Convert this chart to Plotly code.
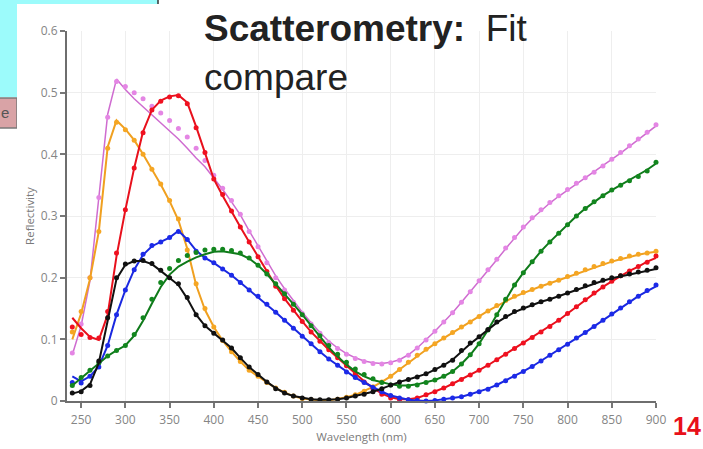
import plotly.graph_objects as go

# Wavelength sampling grid (nm)
wavelength_nm = list(range(240, 901, 10))

# Measured reflectivity (dots) and model fit (lines) for six samples
violet_meas = [0.078, 0.125, 0.20, 0.33, 0.46, 0.518, 0.51, 0.50, 0.49, 0.478,
               0.467, 0.455, 0.442, 0.428, 0.41, 0.39, 0.366, 0.345, 0.325, 0.303,
               0.275, 0.25, 0.224, 0.20, 0.18, 0.16, 0.142, 0.125, 0.11, 0.095,
               0.085, 0.076, 0.069, 0.064, 0.061, 0.06, 0.062, 0.066, 0.074, 0.086,
               0.099, 0.113, 0.128, 0.143, 0.16, 0.177, 0.195, 0.213, 0.23, 0.248,
               0.265, 0.282, 0.297, 0.31, 0.322, 0.333, 0.343, 0.353, 0.362, 0.371,
               0.381, 0.392, 0.403, 0.414, 0.425, 0.436, 0.448]
violet_fit = [0.075, 0.122, 0.195, 0.33, 0.465, 0.522, 0.505, 0.49, 0.477, 0.465,
              0.452, 0.438, 0.425, 0.41, 0.394, 0.38, 0.362, 0.343, 0.323, 0.302,
              0.276, 0.251, 0.226, 0.203, 0.182, 0.162, 0.144, 0.127, 0.111, 0.097,
              0.086, 0.077, 0.07, 0.065, 0.062, 0.061, 0.063, 0.067, 0.075, 0.086,
              0.099, 0.113, 0.128, 0.143, 0.16, 0.177, 0.195, 0.212, 0.229, 0.247,
              0.264, 0.281, 0.296, 0.309, 0.321, 0.332, 0.342, 0.352, 0.361, 0.371,
              0.381, 0.391, 0.402, 0.413, 0.424, 0.435, 0.446]

red_meas = [0.12, 0.108, 0.103, 0.102, 0.145, 0.24, 0.31, 0.378, 0.435, 0.472,
            0.486, 0.493, 0.495, 0.482, 0.443, 0.403, 0.36, 0.335, 0.308, 0.282,
            0.258, 0.234, 0.21, 0.186, 0.166, 0.147, 0.129, 0.112, 0.097, 0.083,
            0.07, 0.057, 0.044, 0.031, 0.02, 0.011, 0.005, 0.002, 0.002, 0.005,
            0.01, 0.015, 0.021, 0.028, 0.035, 0.042, 0.05, 0.058, 0.067, 0.076,
            0.085, 0.094, 0.103, 0.112, 0.121, 0.131, 0.142, 0.153, 0.164, 0.175,
            0.185, 0.194, 0.203, 0.211, 0.218, 0.225, 0.235]
red_fit = [0.135, 0.118, 0.104, 0.099, 0.14, 0.235, 0.31, 0.378, 0.437, 0.472,
           0.487, 0.494, 0.496, 0.484, 0.445, 0.404, 0.36, 0.333, 0.307, 0.282,
           0.258, 0.234, 0.21, 0.187, 0.166, 0.147, 0.129, 0.112, 0.097, 0.083,
           0.07, 0.057, 0.044, 0.032, 0.021, 0.012, 0.006, 0.003, 0.003, 0.005,
           0.01, 0.015, 0.021, 0.028, 0.035, 0.042, 0.05, 0.058, 0.067, 0.076,
           0.085, 0.094, 0.103, 0.112, 0.121, 0.131, 0.142, 0.153, 0.164, 0.175,
           0.185, 0.194, 0.203, 0.211, 0.218, 0.226, 0.232]

orange_meas = [0.112, 0.145, 0.20, 0.275, 0.41, 0.452, 0.44, 0.423, 0.40, 0.376,
               0.352, 0.325, 0.295, 0.245, 0.19, 0.15, 0.12, 0.098, 0.08, 0.064,
               0.05, 0.04, 0.03, 0.021, 0.014, 0.008, 0.004, 0.002, 0.001, 0.001,
               0.003, 0.006, 0.01, 0.016, 0.023, 0.031, 0.04, 0.051, 0.063, 0.074,
               0.084, 0.093, 0.102, 0.111, 0.12, 0.128, 0.137, 0.146, 0.155, 0.163,
               0.17, 0.176, 0.181, 0.186, 0.191, 0.196, 0.202, 0.207, 0.213, 0.218,
               0.223, 0.227, 0.231, 0.235, 0.238, 0.24, 0.243]
orange_fit = [0.10, 0.142, 0.198, 0.275, 0.412, 0.455, 0.441, 0.423, 0.40, 0.376,
              0.351, 0.324, 0.293, 0.247, 0.188, 0.148, 0.12, 0.098, 0.08, 0.064,
              0.05, 0.04, 0.03, 0.021, 0.014, 0.008, 0.004, 0.002, 0.001, 0.001,
              0.003, 0.006, 0.01, 0.016, 0.023, 0.031, 0.04, 0.051, 0.062, 0.073,
              0.083, 0.093, 0.102, 0.111, 0.12, 0.128, 0.137, 0.146, 0.154, 0.162,
              0.169, 0.175, 0.181, 0.186, 0.191, 0.196, 0.202, 0.207, 0.212, 0.217,
              0.222, 0.226, 0.23, 0.234, 0.237, 0.24, 0.242]

blue_meas = [0.03, 0.029, 0.04, 0.055, 0.09, 0.14, 0.18, 0.213, 0.238, 0.252,
             0.258, 0.265, 0.275, 0.262, 0.243, 0.232, 0.224, 0.214, 0.204, 0.192,
             0.18, 0.17, 0.157, 0.144, 0.131, 0.118, 0.105, 0.093, 0.08, 0.068,
             0.058, 0.047, 0.038, 0.03, 0.022, 0.015, 0.009, 0.005, 0.002, 0.001,
             0.0, 0.001, 0.003, 0.005, 0.007, 0.011, 0.015, 0.019, 0.026, 0.033,
             0.04, 0.048, 0.056, 0.065, 0.074, 0.083, 0.092, 0.102, 0.111, 0.121,
             0.131, 0.141, 0.151, 0.161, 0.17, 0.179, 0.188]
blue_fit = [0.04, 0.032, 0.04, 0.056, 0.09, 0.14, 0.18, 0.213, 0.237, 0.251,
            0.258, 0.265, 0.276, 0.262, 0.244, 0.232, 0.224, 0.214, 0.204, 0.192,
            0.18, 0.169, 0.157, 0.144, 0.131, 0.118, 0.105, 0.093, 0.08, 0.068,
            0.058, 0.047, 0.038, 0.03, 0.022, 0.015, 0.009, 0.005, 0.002, 0.001,
            0.0, 0.001, 0.003, 0.005, 0.007, 0.011, 0.015, 0.02, 0.026, 0.033,
            0.04, 0.048, 0.056, 0.065, 0.074, 0.083, 0.092, 0.102, 0.111, 0.121,
            0.131, 0.141, 0.151, 0.161, 0.17, 0.178, 0.186]

green_meas = [0.025, 0.038, 0.05, 0.062, 0.073, 0.082, 0.09, 0.108, 0.135, 0.165,
              0.192, 0.215, 0.228, 0.236, 0.241, 0.245, 0.246, 0.246, 0.244, 0.24,
              0.232, 0.22, 0.206, 0.19, 0.174, 0.157, 0.14, 0.122, 0.106, 0.09,
              0.076, 0.063, 0.052, 0.043, 0.036, 0.03, 0.026, 0.024, 0.024, 0.026,
              0.03, 0.034, 0.04, 0.048, 0.06, 0.075, 0.093, 0.115, 0.14, 0.165,
              0.188, 0.208, 0.226, 0.243, 0.258, 0.272, 0.286, 0.30, 0.312, 0.323,
              0.333, 0.342, 0.35, 0.357, 0.364, 0.373, 0.387]
green_fit = [0.025, 0.037, 0.05, 0.062, 0.073, 0.082, 0.09, 0.106, 0.13, 0.158,
             0.185, 0.205, 0.218, 0.226, 0.233, 0.238, 0.242, 0.243, 0.241, 0.238,
             0.231, 0.22, 0.206, 0.19, 0.174, 0.157, 0.14, 0.122, 0.104, 0.087,
             0.072, 0.059, 0.048, 0.04, 0.034, 0.03, 0.027, 0.025, 0.025, 0.027,
             0.03, 0.034, 0.04, 0.048, 0.06, 0.075, 0.093, 0.115, 0.14, 0.165,
             0.188, 0.208, 0.226, 0.243, 0.258, 0.272, 0.286, 0.30, 0.312, 0.323,
             0.333, 0.342, 0.35, 0.358, 0.366, 0.375, 0.385]

black_meas = [0.013, 0.015, 0.025, 0.065, 0.135, 0.20, 0.222, 0.227, 0.228, 0.223,
              0.212, 0.20, 0.19, 0.168, 0.14, 0.122, 0.11, 0.099, 0.086, 0.07,
              0.055, 0.043, 0.031, 0.02, 0.013, 0.008, 0.005, 0.003, 0.002, 0.002,
              0.003, 0.005, 0.008, 0.011, 0.015, 0.02, 0.026, 0.031, 0.035, 0.039,
              0.044, 0.051, 0.058, 0.066, 0.082, 0.094, 0.104, 0.116, 0.128, 0.137,
              0.145, 0.151, 0.156, 0.161, 0.165, 0.17, 0.175, 0.181, 0.187, 0.192,
              0.196, 0.20, 0.203, 0.206, 0.209, 0.212, 0.216]
black_fit = [0.012, 0.016, 0.027, 0.062, 0.13, 0.198, 0.221, 0.227, 0.227, 0.222,
             0.211, 0.20, 0.188, 0.166, 0.14, 0.122, 0.11, 0.099, 0.086, 0.07,
             0.055, 0.043, 0.031, 0.021, 0.013, 0.008, 0.005, 0.003, 0.002, 0.002,
             0.003, 0.005, 0.008, 0.011, 0.015, 0.02, 0.026, 0.031, 0.035, 0.039,
             0.044, 0.051, 0.058, 0.067, 0.08, 0.093, 0.104, 0.116, 0.127, 0.136,
             0.144, 0.15, 0.156, 0.161, 0.165, 0.17, 0.175, 0.18, 0.186, 0.191,
             0.195, 0.199, 0.202, 0.205, 0.208, 0.211, 0.214]

x_ticks = [250, 300, 350, 400, 450, 500, 550, 600, 650, 700, 750, 800, 850, 900]
y_ticks = [0, 0.1, 0.2, 0.3, 0.4, 0.5, 0.6]
y_tick_text = ["0", "0.1", "0.2", "0.3", "0.4", "0.5", "0.6"]

series = [
    ("violet", violet_meas, violet_fit, "#e486e4", "#cf6cd0", 1.5),
    ("orange", orange_meas, orange_fit, "#f5a623", "#f0a020", 2),
    ("red", red_meas, red_fit, "#f01020", "#e8101c", 2),
    ("blue", blue_meas, blue_fit, "#1c2ae8", "#1a28e0", 2),
    ("green", green_meas, green_fit, "#12861e", "#0f7a1a", 2),
    ("black", black_meas, black_fit, "#111111", "#111111", 2),
]

W, H = 703, 449
L, R, T, B = 67, 47, 31, 48
PW, PH = W - L - R, H - T - B


def fx(px):
    return (px - L) / PW


def fy(py):
    return (H - B - py) / PH


fig = go.Figure()
for name, meas, fit, dot_col, line_col, lw in series:
    fig.add_trace(go.Scatter(x=wavelength_nm, y=fit, mode="lines", name=name + " fit",
                             line=dict(color=line_col, width=lw), cliponaxis=False))
    fig.add_trace(go.Scatter(x=wavelength_nm, y=meas, mode="markers", name=name,
                             marker=dict(color=dot_col, size=5), cliponaxis=False))

shapes = [
    dict(type="rect", xref="paper", yref="paper", x0=fx(0), x1=fx(158), y0=fy(97), y1=fy(0),
         fillcolor="#9cfbfb", line=dict(width=0), layer="below"),
    dict(type="line", xref="paper", yref="paper", x0=fx(158), x1=fx(158), y0=fy(4), y1=fy(0),
         line=dict(color="#333333", width=1.5), layer="below"),
    dict(type="rect", xref="paper", yref="paper", x0=fx(-5), x1=fx(17), y0=fy(128), y1=fy(98),
         fillcolor="#d9a3a6", line=dict(color="#7a7a7a", width=1.5), layer="below"),
    dict(type="rect", xref="paper", yref="paper", x0=fx(17), x1=fx(710), y0=fy(455), y1=fy(4),
         fillcolor="#ffffff", line=dict(width=0), layer="below"),
]

title_font = "Liberation Sans, Arial"
annotations = [
    dict(xref="paper", yref="paper", x=fx(202), y=fy(6.5), xanchor="left", yanchor="top",
         text="<b>Scatterometry:</b>\u00a0\u00a0Fit", align="left", showarrow=False,
         font=dict(family=title_font, size=37, color="#222222")),
    dict(xref="paper", yref="paper", x=fx(202), y=fy(55), xanchor="left", yanchor="top",
         text="compare", align="left", showarrow=False,
         font=dict(family=title_font, size=37, color="#222222")),
    dict(xref="paper", yref="paper", x=fx(703), y=fy(426), xanchor="right", yanchor="middle",
         text="<b>14</b>", showarrow=False,
         font=dict(family=title_font, size=25, color="#e8101a")),
    dict(xref="paper", yref="paper", x=fx(-1), y=fy(112), xanchor="left", yanchor="middle",
         text="e", showarrow=False,
         font=dict(family=title_font, size=15, color="#555555")),
]

tick_font = dict(family="Open Sans, Noto Sans", size=12, color="#858585")
title_axis_font = dict(family="Open Sans, Noto Sans", size=11.5, color="#7a7a7a")
fig.update_layout(
    width=W, height=H,
    margin=dict(l=L, r=R, t=T, b=B, pad=0, autoexpand=False),
    paper_bgcolor="#ffffff",
    plot_bgcolor="rgba(0,0,0,0)",
    showlegend=False,
    shapes=shapes,
    annotations=annotations,
    xaxis=dict(range=[234, 900], tickvals=x_ticks, ticks="outside", ticklen=5,
               tickcolor="#777777", tickwidth=1.5, showline=True, linecolor="#6e6e6e",
               linewidth=2, showgrid=True, gridcolor="#eeeeee", zeroline=False,
               automargin=False, tickfont=tick_font, ticklabelstandoff=2,
               title=dict(text="Wavelength (nm)", font=title_axis_font, standoff=6)),
    yaxis=dict(range=[0, 0.6], tickvals=y_ticks, ticktext=y_tick_text, ticks="outside",
               ticklen=5, tickcolor="#777777", tickwidth=1.5, showline=True,
               linecolor="#6e6e6e", linewidth=2, showgrid=True, gridcolor="#eeeeee",
               zeroline=False, automargin=False, tickfont=tick_font,
               title=dict(text="Reflectivity", font=title_axis_font, standoff=4)),
)

fig.write_html("out.html")
